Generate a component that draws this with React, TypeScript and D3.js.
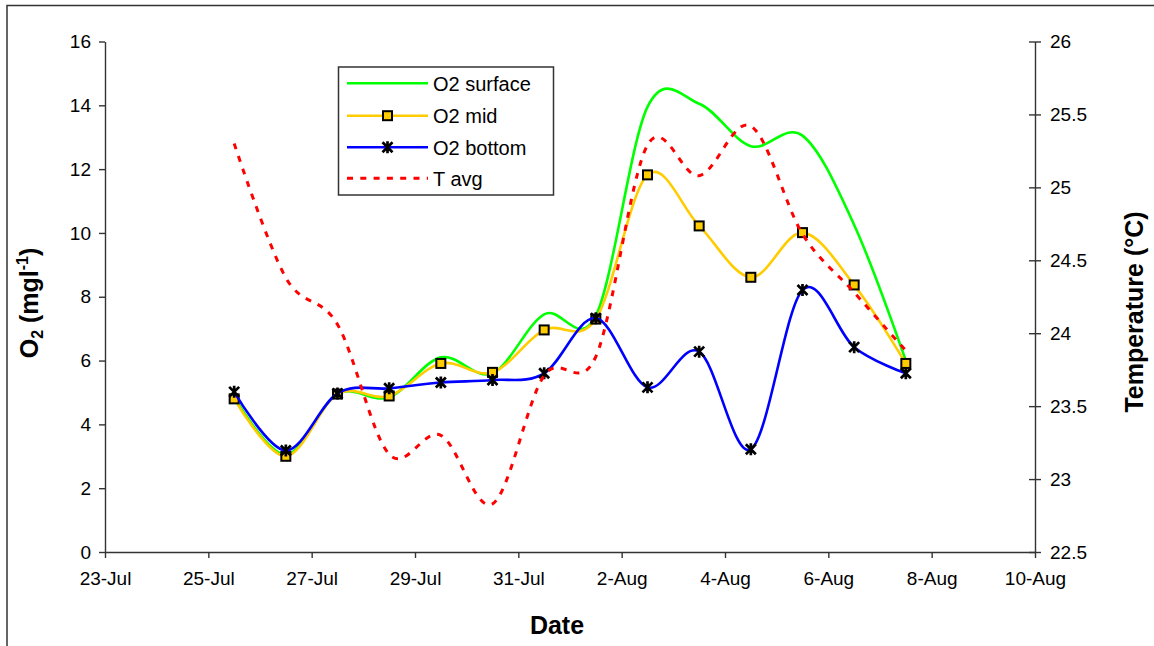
import { useEffect, useRef } from "react";
import * as d3 from "d3";

// sampling dates (readings taken around midday)
const sampleDates = [
  "2000-07-25 12:00", "2000-07-26 12:00", "2000-07-27 12:00", "2000-07-28 12:00",
  "2000-07-29 12:00", "2000-07-30 12:00", "2000-07-31 12:00", "2000-08-01 12:00",
  "2000-08-02 12:00", "2000-08-03 12:00", "2000-08-04 12:00", "2000-08-05 12:00",
  "2000-08-06 12:00", "2000-08-07 12:00",
];
const o2Surface = [4.85, 3.05, 4.95, 4.85, 6.1, 5.6, 7.45, 7.4, 13.95, 14.05, 12.72, 13.05, 10.25, 6.0];
const o2Mid = [4.8, 3.0, 4.95, 4.89, 5.91, 5.63, 6.96, 7.3, 11.82, 10.22, 8.61, 10.01, 8.37, 5.91];
const o2Bottom = [5.02, 3.18, 4.97, 5.13, 5.31, 5.39, 5.6, 7.33, 5.16, 6.28, 3.22, 8.21, 6.42, 5.6];
const tAvg = [25.3, 24.38, 24.06, 23.17, 23.3, 22.83, 23.71, 23.84, 25.29, 25.08, 25.42, 24.68, 24.28, 23.88];

const xTickDates = [
  "2000-07-23", "2000-07-25", "2000-07-27", "2000-07-29", "2000-07-31",
  "2000-08-02", "2000-08-04", "2000-08-06", "2000-08-08", "2000-08-10",
];
const o2Ticks = [0, 2, 4, 6, 8, 10, 12, 14, 16];
const tempTicks = [22.5, 23, 23.5, 24, 24.5, 25, 25.5, 26];

const legendLabels = ["O2 surface", "O2 mid", "O2 bottom", "T avg"];

const width = 1154;
const height = 646;
const plotLeft = 105;
const plotRight = 1035;
const plotTop = 41.5;
const plotBottom = 552;
const font = "'Liberation Sans', Arial, sans-serif";

const parseTime = d3.timeParse("%Y-%m-%d %H:%M");
const parseDay = d3.timeParse("%Y-%m-%d");

const starPath = "M-5,-5L5,5M-5,5L5,-5M0,-6L0,6";

const App = () => {
  const xAxisRef = useRef(null);
  const yAxisRef = useRef(null);
  const y2AxisRef = useRef(null);

  const dates = sampleDates.map((d) => parseTime(d));
  const xTicks = xTickDates.map((d) => parseDay(d));

  const xScale = d3
    .scaleTime()
    .domain([xTicks[0], xTicks[xTicks.length - 1]])
    .range([plotLeft, plotRight]);
  const yScale = d3.scaleLinear().domain([0, 16]).range([plotBottom, plotTop]);
  const y2Scale = d3.scaleLinear().domain([22.5, 26]).range([plotBottom, plotTop]);

  const curve = d3.curveCatmullRom.alpha(0);
  const o2Line = d3
    .line()
    .x((d, i) => xScale(dates[i]))
    .y((d) => yScale(d))
    .curve(curve);
  const tLine = d3
    .line()
    .x((d, i) => xScale(dates[i]))
    .y((d) => y2Scale(d))
    .curve(curve);

  useEffect(() => {
    const styleAxis = (g) => {
      g.attr("font-size", 19).attr("font-family", font);
      g.select(".domain").attr("stroke", "#333").attr("stroke-width", 1.4);
      g.selectAll(".tick line").attr("stroke", "#333").attr("stroke-width", 1.4);
      g.selectAll(".tick text").attr("fill", "#000");
    };

    d3.select(xAxisRef.current)
      .call(
        d3
          .axisBottom(xScale)
          .tickValues(xTicks)
          .tickFormat(d3.timeFormat("%-d-%b"))
          .tickSizeInner(6)
          .tickSizeOuter(0)
          .tickPadding(14)
      )
      .call(styleAxis);

    d3.select(yAxisRef.current)
      .call(
        d3.axisLeft(yScale).tickValues(o2Ticks).tickFormat((d) => String(d)).tickSizeInner(6).tickSizeOuter(0).tickPadding(8)
      )
      .call(styleAxis);

    const g2 = d3.select(y2AxisRef.current);
    g2.call(
      d3.axisRight(y2Scale).tickValues(tempTicks).tickFormat((d) => String(d)).tickSizeInner(6).tickSizeOuter(0).tickPadding(9)
    ).call(styleAxis);
    // right axis ticks cross the axis line
    g2.selectAll(".tick line").attr("x1", -6);
  });

  const legendRows = [83.3, 115.7, 147.3, 178.3];

  return (
    <svg
      width={width}
      height={height}
      viewBox={`0 0 ${width} ${height}`}
      style={{ position: "absolute", left: 0, top: 0, background: "#fff" }}
    >
      <rect x={7} y={5.5} width={1170} height={670} fill="#fff" stroke="#333" strokeWidth={1.5} />

      <g className="x-axis" ref={xAxisRef} transform={`translate(0,${plotBottom})`}></g>
      <g className="y-axis" ref={yAxisRef} transform={`translate(${plotLeft},0)`}></g>
      <g className="y2-axis" ref={y2AxisRef} transform={`translate(${plotRight},0)`}></g>

      {/* O2 surface */}
      <path d={o2Line(o2Surface)} fill="none" stroke="#00ff00" strokeWidth={2.6} />

      {/* O2 mid */}
      <path d={o2Line(o2Mid)} fill="none" stroke="#ffcc00" strokeWidth={2.6} />
      {o2Mid.map((d, i) => (
        <rect
          key={"m" + i}
          x={xScale(dates[i]) - 4.5}
          y={yScale(d) - 4.5}
          width={9}
          height={9}
          fill="#ffcc00"
          stroke="#000"
          strokeWidth={2}
        />
      ))}

      {/* O2 bottom */}
      <path d={o2Line(o2Bottom)} fill="none" stroke="#0000ff" strokeWidth={2.6} />
      {o2Bottom.map((d, i) => (
        <path
          key={"b" + i}
          d={starPath}
          transform={`translate(${xScale(dates[i])},${yScale(d)})`}
          stroke="#000"
          strokeWidth={2.7}
          fill="none"
        />
      ))}

      {/* T avg on right axis */}
      <path d={tLine(tAvg)} fill="none" stroke="#ff0000" strokeWidth={3} strokeDasharray="6 7.3" />

      {/* Legend */}
      <g className="legend" fontFamily={font} fontSize={20}>
        <rect x={338.5} y={67} width={215} height={128} fill="#fff" stroke="#333" strokeWidth={1.5} />
        <line x1={347} x2={428} y1={legendRows[0]} y2={legendRows[0]} stroke="#00ff00" strokeWidth={2.6} />
        <line x1={347} x2={428} y1={legendRows[1]} y2={legendRows[1]} stroke="#ffcc00" strokeWidth={2.6} />
        <rect x={383} y={legendRows[1] - 4.5} width={9} height={9} fill="#ffcc00" stroke="#000" strokeWidth={2} />
        <line x1={347} x2={428} y1={legendRows[2]} y2={legendRows[2]} stroke="#0000ff" strokeWidth={2.6} />
        <path d={starPath} transform={`translate(387.5,${legendRows[2]})`} stroke="#000" strokeWidth={2.7} fill="none" />
        <line
          x1={347}
          x2={428}
          y1={legendRows[3]}
          y2={legendRows[3]}
          stroke="#ff0000"
          strokeWidth={3}
          strokeDasharray="6 7.3"
        />
        {legendLabels.map((label, i) => (
          <text key={label} x={433} y={legendRows[i] + 7.3} fill="#000">
            {label}
          </text>
        ))}
      </g>

      {/* Axis titles */}
      <text x={557} y={634} textAnchor="middle" fontFamily={font} fontSize={25} fontWeight="bold">
        Date
      </text>
      <text
        transform={`translate(38,303) rotate(-90)`}
        textAnchor="middle"
        fontFamily={font}
        fontSize={25}
        fontWeight="bold"
      >
        O<tspan fontSize={16} dy={5}>2</tspan>
        <tspan dy={-5}> (mgl</tspan>
        <tspan fontSize={16} dy={-10}>-1</tspan>
        <tspan dy={10}>)</tspan>
      </text>
      <text
        transform={`translate(1143,312) rotate(-90)`}
        textAnchor="middle"
        fontFamily={font}
        fontSize={25}
        fontWeight="bold"
      >
        Temperature (°C)
      </text>
    </svg>
  );
};

export default App;
